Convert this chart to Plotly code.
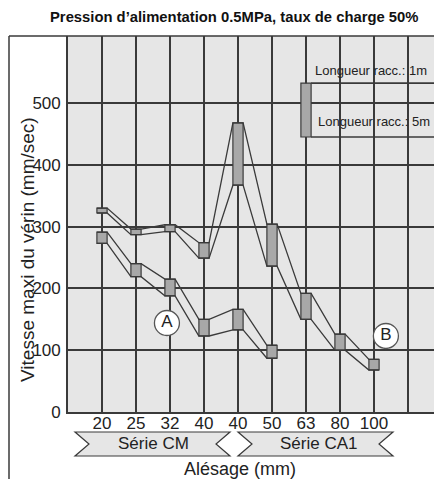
import plotly.graph_objects as go

# Bore sizes (cylinder series CM: 20-40, series CA1: 40-100)
bores = ["20", "25", "32", "40", "40", "50", "63", "80", "100"]
positions = [1, 2, 3, 4, 5, 6, 7, 8, 9]

# Curve B: max cylinder speed (mm/s), tubing length 1 m (top) and 5 m (bottom)
b_speed_1m = [330, 296, 303, 274, 468, 304, 192, 126, 85]
b_speed_5m = [322, 287, 292, 249, 367, 236, 150, 100, 68]

# Curve A: covers bores 20 .. 50
a_positions = [1, 2, 3, 4, 5, 6]
a_speed_1m = [291, 240, 215, 150, 166, 108]
a_speed_5m = [273, 219, 188, 123, 133, 87]

# Curve tags
tag_text = ["A", "B"]
tag_x = [2.91, 9.35]
tag_y = [144, 123]

Y_TICKS = [0, 100, 200, 300, 400, 500]

# ---- geometry (pixels) ----
FIG_W, FIG_H = 434, 479
L, T, R, B = 68, 36, 0, 67
PW, PH = FIG_W - L - R, FIG_H - T - B


def px(x):
    return (x - L) / PW


def py(y):
    return (T + PH - y) / PH


DARK = "#3a3a3a"
BG = "#e6e6e6"
BOX = "#a8a8a8"
FONT = "Liberation Sans, Arial, Helvetica, sans-serif"
BOX_W = 0.3

fig = go.Figure()


def band(xs, top, bot):
    # speed range boxes (1 m .. 5 m)
    fig.add_trace(go.Bar(
        x=xs, y=[t - b for t, b in zip(top, bot)], base=bot, width=BOX_W,
        marker=dict(color=BOX, line=dict(color=DARK, width=1.2)),
        showlegend=False, hoverinfo="skip"))
    # connecting lines along the box tops and bottoms
    for vals in (top, bot):
        lx, ly = [], []
        for x, v in zip(xs, vals):
            lx += [x - BOX_W / 2, x + BOX_W / 2]
            ly += [v, v]
        fig.add_trace(go.Scatter(
            x=lx, y=ly, mode="lines", line=dict(color=DARK, width=1.3),
            showlegend=False, hoverinfo="skip"))


band(positions, b_speed_1m, b_speed_5m)
band(a_positions, a_speed_1m, a_speed_5m)

fig.add_trace(go.Scatter(
    x=tag_x, y=tag_y, mode="markers+text", text=tag_text,
    textposition="middle center",
    textfont=dict(family=FONT, size=17, color="#222"),
    marker=dict(size=25, color="white", line=dict(color="#555", width=1.3)),
    showlegend=False, hoverinfo="skip"))

x_max = (FIG_W - L) / 34.0
y_max = PH / 0.618

fig.update_xaxes(
    range=[0, x_max], tickmode="array",
    tickvals=positions + [10], ticktext=bores + [""],
    showgrid=True, gridcolor=DARK, gridwidth=1.7,
    showline=True, linecolor=DARK, linewidth=1.7, zeroline=False,
    ticks="", tickfont=dict(family=FONT, size=17, color="#222"),
    ticklabelstandoff=-5, fixedrange=True)
fig.update_yaxes(
    range=[0, y_max], tickmode="array", tickvals=Y_TICKS,
    showgrid=True, gridcolor=DARK, gridwidth=1.7,
    showline=True, linecolor=DARK, linewidth=1.7, zeroline=False,
    ticks="", tickfont=dict(family=FONT, size=17, color="#222"),
    ticklabelstandoff=2, fixedrange=True)

shapes = []
# outer frame (left and top)
shapes.append(dict(type="line", xref="paper", yref="paper",
                   x0=px(9), x1=px(9), y0=py(T), y1=py(FIG_H + 5),
                   line=dict(color=DARK, width=1.5), layer="above"))
shapes.append(dict(type="line", xref="paper", yref="paper",
                   x0=px(9), x1=1, y0=1, y1=1,
                   line=dict(color=DARK, width=1.5), layer="above"))

# legend key: length range bar with 1 m / 5 m leaders
key_top, key_bot = 532, 445
shapes.append(dict(type="rect", xref="x", yref="y",
                   x0=7 - BOX_W / 2, x1=7 + BOX_W / 2, y0=key_bot, y1=key_top,
                   fillcolor=BOX, line=dict(color=DARK, width=1.2), layer="above"))
for yv in (key_top, key_bot):
    shapes.append(dict(type="line", xref="x", yref="y",
                       x0=7 + BOX_W / 2, x1=x_max, y0=yv, y1=yv,
                       line=dict(color=DARK, width=1.7), layer="above"))
# backgrounds behind the legend texts
shapes.append(dict(type="rect", xref="paper", yref="paper",
                   x0=px(311), x1=1, y0=py(78), y1=py(62),
                   fillcolor=BG, line=dict(width=0), layer="between"))
shapes.append(dict(type="rect", xref="paper", yref="paper",
                   x0=px(313), x1=1, y0=py(136), y1=py(104),
                   fillcolor=BG, line=dict(width=0), layer="between"))


# series ribbons under the bore labels
def ribbon(x0, x1, y0=432, y1=456, notch=14):
    ym = (y0 + y1) / 2
    pts = [(x0, y0), (x1, y0), (x1 - notch, ym), (x1, y1), (x0, y1), (x0 + notch, ym)]
    path = "M " + " L ".join(f"{px(a):.5f},{py(b):.5f}" for a, b in pts) + " Z"
    return dict(type="path", xref="paper", yref="paper", path=path,
                fillcolor=BG, line=dict(color=DARK, width=1.2), layer="above")


shapes.append(ribbon(75, 230))
shapes.append(ribbon(238, 393))


def label(text, x, y, size, xanchor="center", angle=0, color="#222"):
    return dict(text=text, xref="paper", yref="paper", x=px(x), y=py(y),
                xanchor=xanchor, yanchor="middle", textangle=angle,
                showarrow=False, font=dict(family=FONT, size=size, color=color))


annotations = [
    label("<b>Pression d’alimentation 0.5MPa, taux de charge 50%</b>", 234, 17, 14.8, color="#111"),
    label("Vitesse maxi du vérin (mm/sec)", 27, 250, 19, angle=-90),
    label("Longueur racc.: 1m", 313, 70, 13, xanchor="left"),
    label("Longueur racc.: 5m", 316, 121, 13, xanchor="left"),
    label("Série CM", 153, 444, 17),
    label("Série CA1", 318, 444, 17),
    label("Alésage (mm)", 240, 469, 18),
]

fig.update_layout(
    width=FIG_W, height=FIG_H,
    margin=dict(l=L, r=R, t=T, b=B),
    paper_bgcolor="white", plot_bgcolor=BG,
    barmode="overlay", showlegend=False,
    shapes=shapes, annotations=annotations,
)

fig.write_html("out.html")
